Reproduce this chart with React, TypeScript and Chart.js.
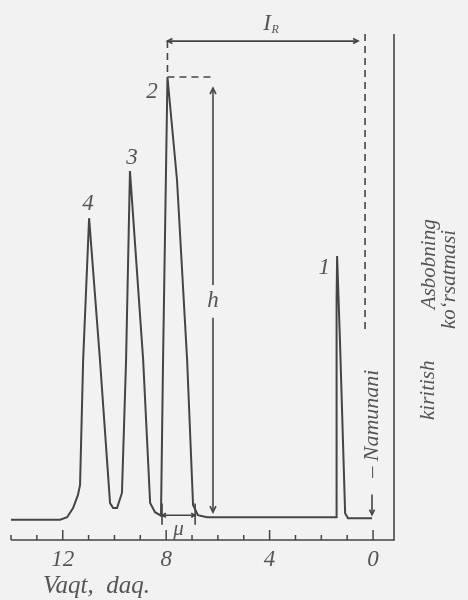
import React, { useEffect, useRef } from "react";
import { Chart, registerables } from "chart.js";

Chart.register(...registerables);

// Chromatogram trace: retention time (min) vs detector signal
const timeMin = [14.0, 12.1, 11.83, 11.6, 11.41, 11.33, 11.21, 10.98, 10.56, 10.17, 10.05, 9.9, 9.71, 9.55, 9.4, 8.89, 8.62, 8.43, 8.2, 8.12, 7.95, 7.58, 7.19, 6.96, 6.77, 6.42, 1.43, 1.41, 1.39, 1.28, 1.08, 0.97, 0.04];
const signal = [4.0, 4.0, 4.5, 6.3, 8.9, 10.9, 35.6, 63.6, 35.6, 7.3, 6.3, 6.3, 9.3, 35.6, 72.9, 35.6, 7.3, 5.5, 4.8, 35.6, 91.5, 71.1, 35.6, 6.9, 4.9, 4.5, 4.5, 47.4, 56.1, 39.5, 5.3, 4.3, 4.3];

// Peak labels
const peakNames = ["1", "2", "3", "4"];
const peakLabelX = [1.89, 8.55, 9.32, 11.02];
const peakLabelY = [53.8, 88.5, 75.5, 66.4];

// Axis ticks
const tickValues = [0, 1, 2, 3, 4, 5, 6, 7, 8, 9, 10, 11, 12, 13, 14];
const majorTicks = [0, 4, 8, 12];

// Annotation values
const peak2Time = 7.95;
const peak2Height = 91.5;
const retentionY = 98.6;
const injectTime = 0.58;
const injectDashTime = 0.31;
const hTime = 6.19;
const widthStart = 8.16;
const widthEnd = 6.88;
const baseline = 4.5;

const INK = "#454545";
const TEXT = "#555555";
const SERIF = "'Liberation Serif', 'DejaVu Serif', serif";

function arrowHead(ctx: CanvasRenderingContext2D, x: number, y: number, dir: "up" | "down" | "left" | "right", s = 6) {
  ctx.beginPath();
  if (dir === "up") { ctx.moveTo(x - s / 2, y + s); ctx.lineTo(x, y); ctx.lineTo(x + s / 2, y + s); }
  if (dir === "down") { ctx.moveTo(x - s / 2, y - s); ctx.lineTo(x, y); ctx.lineTo(x + s / 2, y - s); }
  if (dir === "left") { ctx.moveTo(x + s, y - s / 2); ctx.lineTo(x, y); ctx.lineTo(x + s, y + s / 2); }
  if (dir === "right") { ctx.moveTo(x - s, y - s / 2); ctx.lineTo(x, y); ctx.lineTo(x - s, y + s / 2); }
  ctx.stroke();
}

const annotPlugin = {
  id: "annot",
  beforeDraw(chart: any) {
    const { ctx, width, height } = chart;
    ctx.save();
    ctx.fillStyle = "#f2f2f2";
    ctx.fillRect(0, 0, width, height);
    ctx.restore();
  },
  afterDatasetsDraw(chart: any) {
    const { ctx, chartArea } = chart;
    const xs = chart.scales.x;
    const ys = chart.scales.y;
    const X = (v: number) => xs.getPixelForValue(v);
    const Y = (v: number) => ys.getPixelForValue(v);
    ctx.save();
    ctx.strokeStyle = INK;
    ctx.fillStyle = TEXT;
    ctx.lineWidth = 1.6;

    // axes frame: bottom and right
    ctx.beginPath();
    ctx.moveTo(chartArea.left, chartArea.bottom);
    ctx.lineTo(chartArea.right, chartArea.bottom);
    ctx.lineTo(chartArea.right, chartArea.top);
    ctx.stroke();

    // tick marks (inside)
    ctx.lineWidth = 1.5;
    tickValues.forEach((v) => {
      const px = X(v);
      const len = majorTicks.includes(v) ? 10 : 5;
      ctx.beginPath();
      ctx.moveTo(px, chartArea.bottom - len);
      ctx.lineTo(px, chartArea.bottom);
      ctx.stroke();
    });

    // retention arrow I_R
    ctx.lineWidth = 1.6;
    const yR = Y(retentionY);
    ctx.beginPath();
    ctx.moveTo(X(peak2Time), yR);
    ctx.lineTo(X(injectTime), yR);
    ctx.stroke();
    arrowHead(ctx, X(peak2Time), yR, "left", 5);
    arrowHead(ctx, X(injectTime), yR, "right", 5);

    // dashed lines
    ctx.setLineDash([7, 5]);
    ctx.lineWidth = 1.6;
    ctx.beginPath();
    ctx.moveTo(X(peak2Time), yR);
    ctx.lineTo(X(peak2Time), Y(peak2Height));
    ctx.stroke();
    ctx.beginPath();
    ctx.moveTo(X(peak2Time), Y(peak2Height));
    ctx.lineTo(X(hTime), Y(peak2Height));
    ctx.stroke();
    ctx.beginPath();
    ctx.moveTo(X(injectDashTime), chartArea.top);
    ctx.lineTo(X(injectDashTime), Y(41.5));
    ctx.stroke();
    ctx.setLineDash([]);

    // h arrow
    const hx = X(hTime);
    ctx.beginPath();
    ctx.moveTo(hx, Y(89.3));
    ctx.lineTo(hx, Y(50.4));
    ctx.moveTo(hx, Y(43.9));
    ctx.lineTo(hx, Y(5.5));
    ctx.stroke();
    arrowHead(ctx, hx, Y(89.3), "up", 6);
    arrowHead(ctx, hx, Y(5.5), "down", 6);

    // width marker mu
    const w1 = X(widthStart), w2 = X(widthEnd);
    ctx.beginPath();
    ctx.moveTo(w1, Y(7.2)); ctx.lineTo(w1, Y(3.0));
    ctx.moveTo(w2, Y(7.2)); ctx.lineTo(w2, Y(3.0));
    ctx.moveTo(w1, Y(baseline + 0.4)); ctx.lineTo(w2, Y(baseline + 0.4));
    ctx.stroke();
    arrowHead(ctx, w1, Y(baseline + 0.4), "left", 4);
    arrowHead(ctx, w2, Y(baseline + 0.4), "right", 4);

    // injection arrow
    const ix = X(0.04);
    ctx.beginPath();
    ctx.moveTo(ix, Y(9.0));
    ctx.lineTo(ix, Y(5.0));
    ctx.stroke();
    arrowHead(ctx, ix, Y(5.0), "down", 5);

    // texts
    ctx.font = `italic 23px ${SERIF}`;
    ctx.textAlign = "center";
    ctx.textBaseline = "middle";
    peakNames.forEach((n, i) => ctx.fillText(n, X(peakLabelX[i]), Y(peakLabelY[i])));

    ctx.fillText("h", hx, Y(47.2));
    ctx.font = `italic 21px ${SERIF}`;
    ctx.fillText("μ", (w1 + w2) / 2, Y(2.0));

    // I_R label
    const lx = X(3.98);
    ctx.font = `italic 23px ${SERIF}`;
    ctx.fillText("I", lx - 3, chartArea.top - 10);
    ctx.font = `italic 12px ${SERIF}`;
    ctx.fillText("R", lx + 5, chartArea.top - 4);

    // rotated texts
    const rot = (t: string, x: number, y: number, size: number) => {
      ctx.save();
      ctx.translate(x, y);
      ctx.rotate(-Math.PI / 2);
      ctx.font = `italic ${size}px ${SERIF}`;
      ctx.textAlign = "center";
      ctx.textBaseline = "middle";
      ctx.fillText(t, 0, 0);
      ctx.restore();
    };
    rot("– Namunani", ix, Y(23.0), 22);
    rot("kiritish", chartArea.right + 34, Y(29.6), 21);
    rot("Asbobning", chartArea.right + 35, Y(54.5), 21);
    rot("ko‘rsatmasi", chartArea.right + 55, Y(51.5), 21);

    // x axis title
    ctx.font = `italic 25px ${SERIF}`;
    ctx.textAlign = "left";
    ctx.fillText("Vaqt,  daq.", 43, chartArea.bottom + 46);

    ctx.restore();
  },
};

export default function App() {
  const ref = useRef<HTMLCanvasElement | null>(null);
  useEffect(() => {
    if (!ref.current) return;
    const points = timeMin.map((t, i) => ({ x: t, y: signal[i] }));
    const chart = new Chart(ref.current, {
      type: "line",
      data: {
        datasets: [
          {
            data: points,
            borderColor: INK,
            borderWidth: 2,
            pointRadius: 0,
            tension: 0,
            fill: false,
          },
        ],
      },
      options: {
        responsive: false,
        animation: false,
        layout: { padding: { left: 11, right: 74, top: 34, bottom: 0 } },
        plugins: { legend: { display: false }, tooltip: { enabled: false } },
        scales: {
          x: {
            type: "linear",
            reverse: true,
            min: -0.81,
            max: 14,
            afterBuildTicks: (scale: any) => {
              scale.ticks = tickValues.map((v) => ({ value: v }));
            },
            afterFit: (scale: any) => {
              scale.height = 60;
            },
            grid: { display: false, drawTicks: false },
            border: { display: false },
            ticks: {
              autoSkip: false,
              maxRotation: 0,
              padding: 6,
              color: TEXT,
              font: { family: SERIF, size: 23, style: "italic" },
              callback: (v: any) => (majorTicks.includes(Number(v)) ? String(v) : ""),
            },
          },
          y: {
            display: false,
            min: 0,
            max: 100,
          },
        },
      },
      plugins: [annotPlugin],
    });
    return () => chart.destroy();
  }, []);
  return (
    <div style={{ position: "fixed", left: 0, top: 0, width: 468, height: 600 }}>
      <canvas ref={ref} width={468} height={600} />
    </div>
  );
}
